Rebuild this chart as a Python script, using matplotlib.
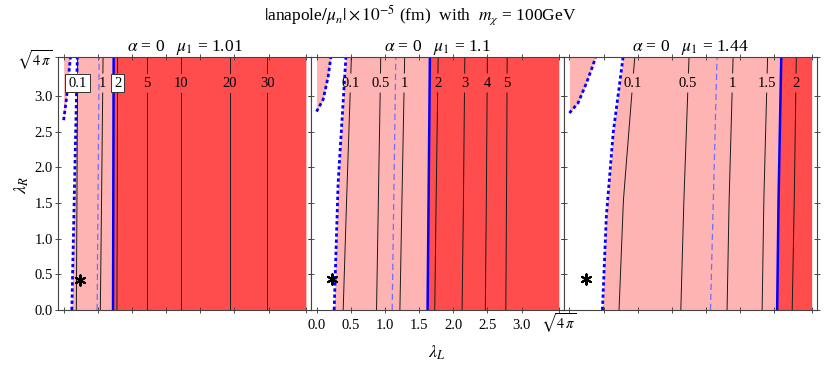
import numpy as np
import matplotlib
matplotlib.use("Agg")
import matplotlib.pyplot as plt

plt.rcParams['font.family'] = ['Liberation Serif', 'DejaVu Serif']
plt.rcParams['mathtext.fontset'] = 'stix'

S = np.sqrt(4 * np.pi)

# 面板参数
mu1_values = ["1.01", "1.1", "1.44"]

# 左上角小块 (虚线曲线): (y, x)
corner_y = [[2.66, 2.95, 3.25, S], [2.78, 2.95, 3.27, S], [2.76, 2.90, 3.18, 3.41, S]]
corner_x = [[0.0, 0.04, 0.07, 0.10], [0.0, 0.097, 0.17, 0.21], [0.0, 0.126, 0.249, 0.337, 0.385]]

# 白/粉边界 (蓝色点线): (y, x)
dotted_y = [[0.0, S], [0.0, 1.78, S], [0.0, 1.31, 2.48, S]]
dotted_x = [[0.12, 0.20], [0.258, 0.316, 0.43], [0.483, 0.54, 0.64, 0.785]]

# 粉/红边界 (蓝色实线): y 与 x
solid_y = [[0, S], [0, S], [0, 1.54, S]]
solid_x = [[0.723, 0.732], [1.625, 1.659], [3.04, 3.06, 3.10]]

# 蓝色虚线: bottom, top
dashed_x = [(0.49, 0.52), (1.107, 1.16), (2.064, 2.16)]

# 等高线: 标签, 各高度上的x (y = 0, 1.54, S)
contour_labels = [["0.1", "1", "2", "5", "10", "20", "30"],
                  ["0.1", "0.5", "1", "2", "3", "4", "5"],
                  ["0.1", "0.5", "1", "1.5", "2"]]
contour_bottom = [[0.186, 0.537, 0.78, 1.22, 1.723, 2.43, 2.978],
                  [0.39, 0.878, 1.22, 1.73, 2.13, 2.47, 2.77],
                  [0.726, 1.63, 2.307, 2.82, 3.26]]
contour_mid = [[0.195, 0.555, 0.785, 1.22, 1.723, 2.43, 2.978],
               [0.44, 0.905, 1.25, 1.75, 2.15, 2.485, 2.78],
               [0.79, 1.675, 2.337, 2.845, 3.29]]
contour_top = [[0.205, 0.577, 0.79, 1.22, 1.723, 2.43, 2.978],
               [0.51, 0.94, 1.29, 1.78, 2.17, 2.50, 2.79],
               [0.956, 1.75, 2.395, 2.90, 3.32]]
boxed = [["0.1", "2"], [], []]

# 星号位置
star_x = [0.245, 0.23, 0.24]
star_y = [0.42, 0.44, 0.43]

pink = '#ffb4b4'
red = '#ff4d4d'
label_y = 3.18
gap = 0.14
xpad = 0.078

ticks = [0, 0.5, 1.0, 1.5, 2.0, 2.5, 3.0, S]
tick_labels = ['0.0', '0.5', '1.0', '1.5', '2.0', '2.5', '3.0', r'$\sqrt{4\,\pi}$']

fig = plt.figure(figsize=(8.3, 3.67), dpi=100)
W, H = 830, 367
left0, pw, bottom_px, ph = 58.3, 252.9, 310, 253

yy = np.linspace(0, S, 200)
cyv = [0, 1.54, S]
for i in range(3):
    ax = fig.add_axes([(left0 + i * pw) / W, (H - bottom_px) / H, pw / W, ph / H])
    dx = np.interp(yy, dotted_y[i], dotted_x[i])
    sx = np.interp(yy, solid_y[i], solid_x[i])
    ax.fill_betweenx(yy, dx, sx, color=pink, lw=0)
    ax.fill_betweenx(yy, sx, S, color=red, lw=0)
    cy = np.linspace(corner_y[i][0], S, 60)
    cx = np.interp(cy, corner_y[i], corner_x[i])
    ax.fill_betweenx(cy, 0, cx, color=pink, lw=0)

    ax.plot(corner_x[i], corner_y[i], color='#0000ff', lw=2.0, dashes=(1.2, 1.0))
    ax.plot(dotted_x[i], dotted_y[i], color='#0000ff', lw=2.0, dashes=(1.2, 1.0))
    ax.plot(dashed_x[i], [0, S], color='#6f6fff', lw=0.9, dashes=(5, 3))
    ax.plot(solid_x[i], solid_y[i], color='#0000ff', lw=1.8)

    for lab, xb, xm, xt in zip(contour_labels[i], contour_bottom[i], contour_mid[i], contour_top[i]):
        lx = [xb, xm, xt]
        xl = np.interp(label_y, cyv, lx)
        y1, y2 = label_y - gap, label_y + gap
        lo = np.linspace(0, y1, 30)
        hi = np.linspace(y2, S, 10)
        ax.plot(np.interp(lo, cyv, lx), lo, color='#1a1a1a', lw=0.7)
        ax.plot(np.interp(hi, cyv, lx), hi, color='#1a1a1a', lw=0.7)
        if lab in boxed[i]:
            ax.text(xl, label_y, lab, ha='center', va='center', fontsize=10.5,
                    bbox=dict(boxstyle='square,pad=0.2', fc='white', ec='#333333', lw=0.7))
        else:
            ax.text(xl, label_y, lab, ha='center', va='center', fontsize=10.5)

    ax.scatter([star_x[i]], [star_y[i]], marker=(6, 2, 0), s=55, color='black', lw=1.5, zorder=5)

    ax.set_xlim(-xpad, S + xpad)
    ax.set_ylim(0, S)
    ax.set_xticks(ticks)
    ax.set_yticks(ticks)
    if i == 1:
        ax.set_xticklabels(tick_labels)
    else:
        ax.set_xticklabels([])
    if i == 0:
        ax.set_yticklabels(tick_labels)
    else:
        ax.set_yticklabels([])
    ax.tick_params(direction='inout', length=4, width=0.6, color='#333333',
                   top=True, right=True, labelsize=10.5, pad=2)
    ax.tick_params(axis='x', pad=12)
    for lbl in ax.get_xticklabels():
        lbl.set_verticalalignment('baseline')
    for sp in ax.spines.values():
        sp.set_color('#444444')
        sp.set_linewidth(0.8)
    ax.set_title(r'$\alpha$ = 0   $\mu_1$ = ' + mu1_values[i], fontsize=12.5, pad=4)

fig.text(420 / W, 1 - 15 / H, r'$|$anapole$/\mu_n| \times 10^{-5}$ (fm)  with  $m_\chi$ = 100GeV',
         ha='center', va='center', fontsize=12.5)
fig.text(22 / W, 1 - 185 / H, r'$\lambda_R$', rotation=90, ha='center', va='center', fontsize=13)
fig.text(437 / W, 1 - 353 / H, r'$\lambda_L$', ha='center', va='center', fontsize=13)

fig.savefig('out.png', dpi=100)
